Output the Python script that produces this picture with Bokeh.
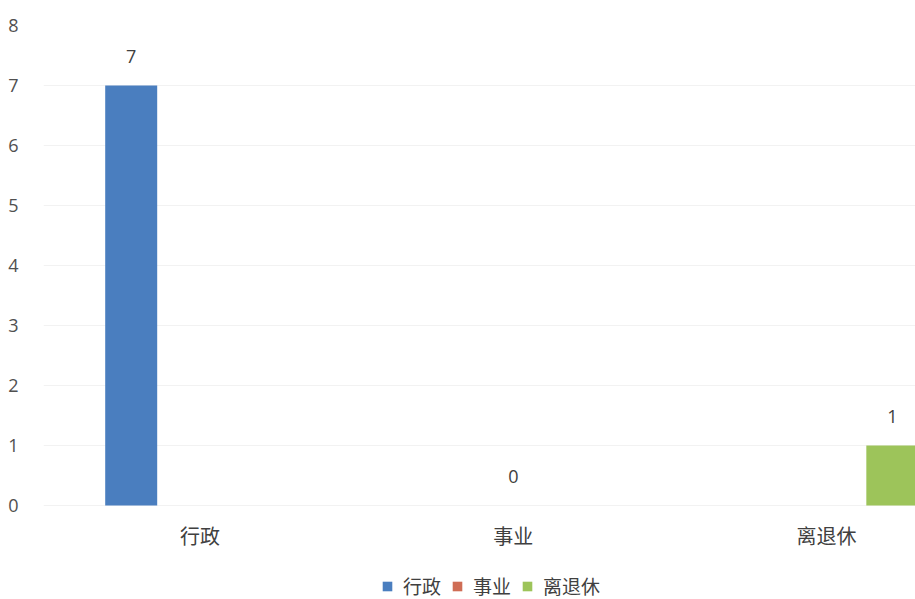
from bokeh.plotting import figure
from bokeh.models import Range1d, FixedTicker, Legend, LegendItem, ColumnDataSource
from bokeh.core.properties import value
from bokeh.embed import file_html
from bokeh.resources import INLINE

categories = ["行政", "事业", "离退休"]
series_names = ["行政", "事业", "离退休"]
series_values = [7, 0, 1]
series_colors = ["#4a7ebf", "#cf6d55", "#9dc45a"]
y_ticks = [0, 1, 2, 3, 4, 5, 6, 7, 8]

offsets = [-0.22, 0.0, 0.21]
bar_width = 0.166

p = figure(frame_width=872, frame_height=574, output_backend="svg", toolbar_location=None,
           x_range=Range1d(-0.5, 2.284), y_range=Range1d(-1.5667, 8),
           x_axis_location=None,
           min_border_left=43, min_border_right=0, min_border_top=25, min_border_bottom=0)
p.outline_line_color = None
p.background_fill_color = "white"
p.border_fill_color = "white"

renderers = []
for i, (name, val, col) in enumerate(zip(series_names, series_values, series_colors)):
    x = categories.index(name) + offsets[i]
    src = ColumnDataSource(dict(x=[x], top=[val], label=[str(val)]))
    r = p.vbar(x="x", top="top", bottom=0, width=bar_width, source=src,
               fill_color=col, line_color=None)
    renderers.append(r)
    p.text(x="x", y="top", text="label", source=src, text_align="center",
           text_baseline="bottom", y_offset=-22, text_font_size="18px",
           text_color="#404040", text_font=value("Open Sans"))

# category labels under the baseline
cat_src = ColumnDataSource(dict(x=list(range(len(categories))), y=[0] * len(categories), t=categories))
p.text(x="x", y="y", text="t", source=cat_src, text_align="center", text_baseline="middle",
       y_offset=30, text_font_size="20px", text_color="#404040",
       text_font=value("Noto Sans CJK SC"))

p.yaxis.ticker = FixedTicker(ticks=y_ticks)
p.yaxis.major_label_text_font = "Open Sans"
p.yaxis.major_label_text_font_size = "18px"
p.yaxis.major_label_text_color = "#505050"
p.yaxis.major_label_standoff = 19
p.yaxis.axis_line_color = None
p.yaxis.major_tick_line_color = None
p.yaxis.minor_tick_line_color = None

p.xgrid.grid_line_color = None
p.ygrid.grid_line_color = "#f2f2f2"
p.ygrid.ticker = FixedTicker(ticks=y_ticks)

legend = Legend(items=[LegendItem(label=n, renderers=[r]) for n, r in zip(series_names, renderers)],
                orientation="horizontal", location=(338, 0),
                label_text_font="Noto Sans CJK SC", label_text_font_size="19px",
                label_text_color="#404040", glyph_width=12, glyph_height=12,
                spacing=10, label_standoff=10, padding=0, margin=0,
                border_line_color=None, background_fill_alpha=0)
p.add_layout(legend, "center")

open("out.html", "w").write(file_html(p, INLINE))
